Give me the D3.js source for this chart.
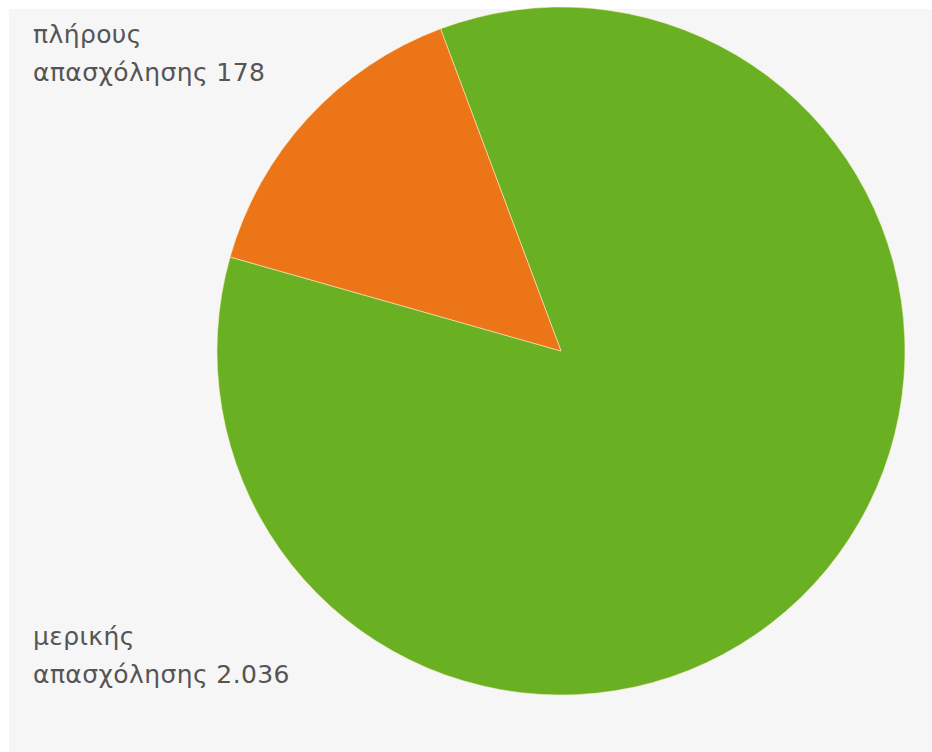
<!DOCTYPE html>
<html>
<head>
<meta charset="utf-8">
<script src="https://cdn.jsdelivr.net/npm/d3@7"></script>
<style>
  html, body { margin: 0; padding: 0; background: #ffffff; }
  svg { display: block; }
</style>
</head>
<body>
<svg id="chart" width="932" height="752"></svg>
<script>
// Data
const categories = ["μερικής απασχόλησης", "πλήρους απασχόλησης"];
const labelValues = ["2.036", "178"];
// Slice shares as drawn in the picture (percent of the circle)
const sliceShares = [85.1, 14.9];
const colors = ["#6ab023", "#ec7518"];
const labelLines = [["μερικής", "απασχόλησης 2.036"], ["πλήρους", "απασχόλησης 178"]];

const svg = d3.select("#chart");
const W = 932, H = 752;

// background panel
svg.append("rect").attr("x", 0).attr("y", 0).attr("width", W).attr("height", H).attr("fill", "#ffffff");
svg.append("rect").attr("x", 9).attr("y", 9).attr("width", W - 9).attr("height", H - 9).attr("fill", "#f6f6f6");

const cx = 561, cy = 351, r = 344;
const start = -20.5 * Math.PI / 180;

const pie = d3.pie().sort(null).value(d => d.share)
  .startAngle(start).endAngle(start + 2 * Math.PI);
const data = categories.map((c, i) => ({ cat: c, share: sliceShares[i], color: colors[i] }));
const arc = d3.arc().innerRadius(0).outerRadius(r);

const g = svg.append("g").attr("transform", `translate(${cx},${cy})`);
g.selectAll("path").data(pie(data)).join("path")
  .attr("d", arc)
  .attr("fill", d => d.data.color)
  .attr("stroke", "rgba(255,240,200,0.55)")
  .attr("stroke-width", 1);

// labels
const labelPos = [{ x: 33, y: 645 }, { x: 33, y: 43 }];
labelLines.forEach((lines, i) => {
  const t = svg.append("text")
    .attr("x", labelPos[i].x).attr("y", labelPos[i].y)
    .attr("font-family", "'DejaVu Sans', sans-serif")
    .attr("font-size", 25)
    .attr("letter-spacing", 0.4)
    .attr("fill", "#555555");
  lines.forEach((l, j) => {
    t.append("tspan").attr("x", labelPos[i].x).attr("dy", j === 0 ? 0 : 38).text(l);
  });
});
</script>
</body>
</html>
